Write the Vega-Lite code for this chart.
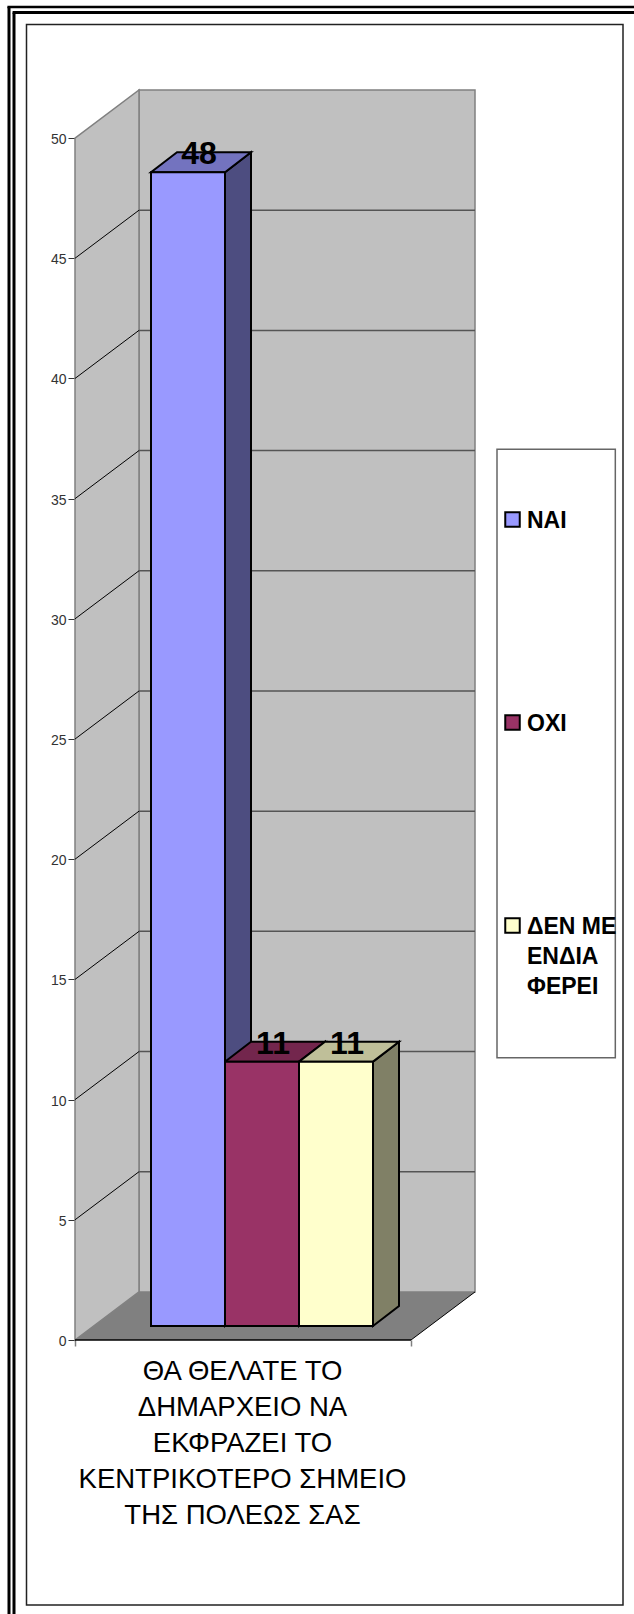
{
"$schema":"https://vega.github.io/schema/vega-lite/v6.json",
"autosize":"none","width":400,"height":1250,
"padding":{"left":75,"top":90,"right":159,"bottom":274},
"background":"#ffffff",
"view":{"stroke":null},
"config":{"font":"Liberation Sans"},
"datasets":{
"answers":[{"answer":"ΝΑΙ","value":48,"order":0},{"answer":"ΟΧΙ","value":11,"order":1},{"answer":"ΔΕΝ ΜΕΝΔΙΑΦΕΡΕΙ","value":11,"order":2}],
"ticks":[{"tick":5},{"tick":10},{"tick":15},{"tick":20},{"tick":25},{"tick":30},{"tick":35},{"tick":40},{"tick":45}],
"question":[{"q":"ΘΑ ΘΕΛΑΤΕ ΤΟ\nΔΗΜΑΡΧΕΙΟ ΝΑ\nΕΚΦΡΑΖΕΙ ΤΟ\nΚΕΝΤΡΙΚΟΤΕΡΟ ΣΗΜΕΙΟ\nΤΗΣ ΠΟΛΕΩΣ ΣΑΣ"}],
"one":[{"a":1}],
"corners":[{"c":0},{"c":1}]
},
"resolve":{"scale":{"color":"independent"}},
"layer":[
{"data":{"name":"one"},"mark":{"type":"rule","color":"#000","strokeWidth":3},"encoding":{
"x":{"datum":-16.5,"type":"quantitative","scale":{"domain":[0,100],"nice":false,"zero":false},"axis":{"values":[0,84],"labels":false,"domain":false,"grid":false,"ticks":true,"tickSize":6,"tickColor":"#808080","tickWidth":1.5,"title":null}},
"y":{"datum":55.45,"type":"quantitative","scale":{"domain":[0,52],"nice":false,"zero":false},"axis":{"values":[0,5,10,15,20,25,30,35,40,45,50],"domain":false,"grid":false,"tickSize":7,"tickColor":"#333333","tickWidth":1,"labelFontSize":14,"labelColor":"#333333","labelFont":"Liberation Sans","labelPadding":2,"labelOffset":1.5,"title":null}},
"y2":{"datum":-11.4}}},
{"data":{"name":"one"},"mark":{"type":"rule","color":"#000","strokeWidth":3},"encoding":{"x":{"datum":-15.25,"type":"quantitative"},"y":{"datum":55.22,"type":"quantitative"},"y2":{"datum":-11.4}}},
{"data":{"name":"one"},"mark":{"type":"rule","color":"#000","strokeWidth":2.5},"encoding":{"x":{"datum":-16.9,"type":"quantitative"},"x2":{"datum":139.75},"y":{"datum":55.45,"type":"quantitative"}}},
{"data":{"name":"one"},"mark":{"type":"rule","color":"#000","strokeWidth":3},"encoding":{"x":{"datum":-15.6,"type":"quantitative"},"x2":{"datum":139.75},"y":{"datum":55.22,"type":"quantitative"}}},
{"data":{"name":"one"},"mark":{"type":"rect","fill":null,"stroke":"#222222","strokeWidth":1.5},"encoding":{"x":{"datum":-12.125,"type":"quantitative"},"x2":{"datum":137},"y":{"datum":54.72,"type":"quantitative"},"y2":{"datum":-11.02}}},
{"data":{"name":"one"},"mark":{"type":"rect","fill":"#ffffff","stroke":"#666666","strokeWidth":1.5},"encoding":{"x":{"datum":105.5,"type":"quantitative"},"x2":{"datum":135.08},"y":{"datum":37.06,"type":"quantitative"},"y2":{"datum":11.74}}},
{"data":{"name":"one"},"mark":{"type":"rect","fill":"#C0C0C0","stroke":"#808080","strokeWidth":1.5},"encoding":{"x":{"datum":16,"type":"quantitative"},"x2":{"datum":100},"y":{"datum":2,"type":"quantitative"},"y2":{"datum":52}}},
{"data":{"name":"corners"},"transform":[{"calculate":"datum.c*16","as":"x"},{"calculate":"datum.c*2","as":"lo"},{"calculate":"50+datum.c*2","as":"hi"}],"mark":{"type":"area","fill":"#C0C0C0","stroke":"#808080","strokeWidth":1.5},"encoding":{"x":{"field":"x","type":"quantitative"},"y":{"field":"lo","type":"quantitative"},"y2":{"field":"hi"}}},
{"data":{"name":"corners"},"transform":[{"calculate":"datum.c*2","as":"yy"},{"calculate":"datum.c*16","as":"xa"},{"calculate":"84+datum.c*16","as":"xb"}],"mark":{"type":"area","orient":"horizontal","fill":"#808080"},"encoding":{"y":{"field":"yy","type":"quantitative"},"x":{"field":"xa","type":"quantitative"},"x2":{"field":"xb"}}},
{"data":{"name":"ticks"},"transform":[{"calculate":"datum.tick+2","as":"back"}],"mark":{"type":"rule","color":"#555555","strokeWidth":1.5},"encoding":{"x":{"datum":16,"type":"quantitative"},"x2":{"datum":100},"y":{"field":"back","type":"quantitative"}}},
{"data":{"name":"ticks"},"transform":[{"calculate":"datum.tick+2","as":"back"}],"mark":{"type":"rule","color":"#000000","strokeWidth":1},"encoding":{"x":{"datum":0,"type":"quantitative"},"x2":{"datum":16},"y":{"field":"tick","type":"quantitative"},"y2":{"field":"back"}}},
{"data":{"name":"one"},"mark":{"type":"rule","color":"#000","strokeWidth":1.5},"encoding":{"x":{"datum":0,"type":"quantitative"},"x2":{"datum":84},"y":{"datum":0,"type":"quantitative"}}},
{"data":{"name":"one"},"mark":{"type":"rule","color":"#000","strokeWidth":1},"encoding":{"x":{"datum":84,"type":"quantitative"},"x2":{"datum":100},"y":{"datum":0,"type":"quantitative"},"y2":{"datum":2}}},
{"data":{"name":"answers"},"transform":[{"calculate":"[0,1]","as":"c"},{"flatten":["c"]},{"calculate":"19+18.5*(datum.order+1)+datum.c*6.5","as":"xs"},{"calculate":"0.58+datum.c*0.83","as":"lo"},{"calculate":"0.58+datum.value+datum.c*0.83","as":"hi"}],"mark":{"type":"area","stroke":"#000","strokeWidth":2},"encoding":{"x":{"field":"xs","type":"quantitative"},"y":{"field":"lo","type":"quantitative"},"y2":{"field":"hi"},"color":{"field":"answer","type":"nominal","scale":{"domain":["ΝΑΙ","ΟΧΙ","ΔΕΝ ΜΕΝΔΙΑΦΕΡΕΙ"],"range":["#4D4D80","#4D1A33","#808066"]},"legend":null}}},
{"data":{"name":"answers"},"transform":[{"calculate":"[0,1]","as":"c"},{"flatten":["c"]},{"calculate":"datum.value+0.58+datum.c*0.83","as":"yy"},{"calculate":"19+18.5*datum.order+datum.c*6.5","as":"xa"},{"calculate":"19+18.5*(datum.order+1)+datum.c*6.5","as":"xb"}],"mark":{"type":"area","orient":"horizontal","stroke":"#000","strokeWidth":2},"encoding":{"y":{"field":"yy","type":"quantitative"},"x":{"field":"xa","type":"quantitative"},"x2":{"field":"xb"},"color":{"field":"answer","type":"nominal","scale":{"domain":["ΝΑΙ","ΟΧΙ","ΔΕΝ ΜΕΝΔΙΑΦΕΡΕΙ"],"range":["#7373BF","#73264D","#BFBF99"]},"legend":null}}},
{"data":{"name":"answers"},"transform":[{"calculate":"19+18.5*datum.order","as":"xa"},{"calculate":"datum.xa+18.5","as":"xb"},{"calculate":"0.58","as":"lo"},{"calculate":"0.58+datum.value","as":"hi"}],"mark":{"type":"rect","stroke":"#000","strokeWidth":2},"encoding":{"x":{"field":"xa","type":"quantitative"},"x2":{"field":"xb"},"y":{"field":"lo","type":"quantitative"},"y2":{"field":"hi"},"color":{"field":"answer","type":"nominal","scale":{"domain":["ΝΑΙ","ΟΧΙ","ΔΕΝ ΜΕΝΔΙΑΦΕΡΕΙ"],"range":["#9999FF","#993366","#FFFFCC"]},"legend":{"orient":"none","legendX":426,"legendY":418,"title":null,"symbolType":"square","symbolSize":210,"symbolStrokeColor":"#000","symbolStrokeWidth":2,"symbolOpacity":1,"labelFont":"Liberation Sans","labelFontSize":23,"labelFontWeight":"bold","labelColor":"#000","labelLimit":300,"labelOffset":3,"rowPadding":178,"labelExpr":"datum.label=='ΔΕΝ ΜΕΝΔΙΑΦΕΡΕΙ'?['ΔΕΝ ΜΕ','ΕΝΔΙΑ','ΦΕΡΕΙ']:datum.label","labelBaseline":"top","encode":{"labels":{"update":{"lineHeight":{"value":30},"dy":{"value":-10}}}}}}}},
{"data":{"name":"answers"},"transform":[{"calculate":"19+18.5*datum.order+12","as":"xt"},{"calculate":"datum.value+0.58+0.75","as":"yt"}],"mark":{"type":"text","font":"Liberation Sans","fontSize":32,"fontWeight":"bold","color":"#000","baseline":"middle"},"encoding":{"x":{"field":"xt","type":"quantitative"},"y":{"field":"yt","type":"quantitative"},"text":{"field":"value","type":"quantitative"}}},
{"data":{"name":"question"},"mark":{"type":"text","font":"Liberation Sans","fontSize":27.5,"color":"#000","align":"center","baseline":"alphabetic","lineBreak":"\n","lineHeight":36},"encoding":{"x":{"datum":41.875,"type":"quantitative"},"y":{"datum":-1.68,"type":"quantitative"},"text":{"field":"q","type":"nominal"}}}
]
}
